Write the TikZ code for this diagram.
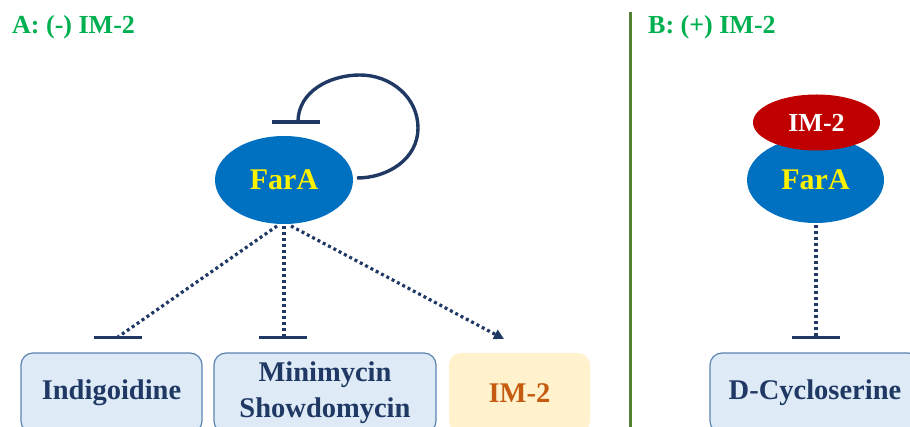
\documentclass[tikz,border=0pt]{standalone}
\usepackage{fontspec}
\setmainfont{Liberation Serif}
\usetikzlibrary{arrows.meta,shapes.geometric}
\definecolor{ttlgreen}{HTML}{00B050}
\definecolor{divgreen}{HTML}{548235}
\definecolor{navy}{HTML}{1F3864}
\definecolor{faraBlue}{HTML}{0070C0}
\definecolor{imred}{HTML}{C00000}
\definecolor{boxblue}{HTML}{DEEBF7}
\definecolor{boxedge}{HTML}{5B84B1}
\definecolor{boxorange}{HTML}{FFF2CC}
\definecolor{txtorange}{HTML}{C55A11}
\tikzset{
  ttl/.style={text=ttlgreen,font=\bfseries\fontsize{26}{30}\selectfont,anchor=west,inner sep=0},
  faranode/.style={ellipse,fill=faraBlue,minimum width=138,minimum height=88,inner sep=0,
    text=yellow,font=\bfseries\fontsize{30}{34}\selectfont},
  imnode/.style={ellipse,fill=imred,minimum width=127,minimum height=56,inner sep=0,
    text=white,font=\bfseries\fontsize{26}{30}\selectfont},
  prodbox/.style={rectangle,rounded corners=12,draw=boxedge,line width=1.2,fill=boxblue,
    minimum height=80,inner sep=0,text=navy,align=center,
    font=\bfseries\fontsize{28.5}{36}\selectfont},
  imbox/.style={rectangle,rounded corners=12,fill=boxorange,minimum height=80,inner sep=0,
    text=txtorange,font=\bfseries\fontsize{28.5}{36}\selectfont},
  dots/.style={draw=navy,line width=3.2,dash pattern=on 3 off 3},
  bar/.style={draw=navy,line width=3.4},
  loopline/.style={draw=navy,line width=3.4},
}
\begin{document}
\begin{tikzpicture}[x=1pt,y=-1pt]
\useasboundingbox (0,0) rectangle (910,427);
\clip (0,0) rectangle (910,427);
% titles
\node[ttl] (ta) at (12,27) {A: (-) IM-2};
\node[ttl] (tb) at (648,27) {B: (+) IM-2};
% divider
\coordinate (d1) at (630.5,12);
\coordinate (d2) at (630.5,430);
\draw[divgreen,line width=3.4] (d1) -- (d2);
% panel A
\node[faranode] (fa) at (284,180) {FarA};
\coordinate (la) at (357,178);
\coordinate (lb) at (298,122);
\coordinate (bl) at (272,122);
\coordinate (br) at (320,122);
\draw[loopline] (la) to[out=0,in=-90] (418,128) to[out=90,in=0] (360,75) to[out=180,in=90] (lb);
\draw[bar] (bl) -- (br);

\node[prodbox,minimum width=181] (ind) at (111.5,393) {Indigoidine};
\node[prodbox,minimum width=222] (min) at (325,393) {Minimycin\\Showdomycin};
\node[imbox,minimum width=141] (imb) at (519.5,393) {IM-2};

\coordinate (s1) at (277,226);
\coordinate (s2) at (284,226);
\coordinate (s3) at (291,226);
\coordinate (e1) at (118,337);
\coordinate (e2) at (284,337);
\coordinate (e3) at (504,339);
\draw[dots] (s1) -- (e1);
\draw[dots] (s2) -- (e2);
\draw[dots,-{Triangle[length=10,width=10]}] (s3) -- (e3);
\coordinate (b1l) at (94,337.5);
\coordinate (b1r) at (142,337.5);
\coordinate (b2l) at (259,337.5);
\coordinate (b2r) at (307,337.5);
\draw[bar] (b1l) -- (b1r);
\draw[bar] (b2l) -- (b2r);
% panel B
\node[faranode,minimum width=137,minimum height=86] (fb) at (815.5,180) {FarA};
\node[imnode] (im) at (816.5,122.5) {IM-2};
\node[prodbox,minimum width=210] (dcs) at (815,393) {D-Cycloserine};
\coordinate (s4) at (816,225);
\coordinate (e4) at (816,337);
\draw[dots] (s4) -- (e4);
\coordinate (b3l) at (792,337.5);
\coordinate (b3r) at (840,337.5);
\draw[bar] (b3l) -- (b3r);
\end{tikzpicture}
\end{document}
